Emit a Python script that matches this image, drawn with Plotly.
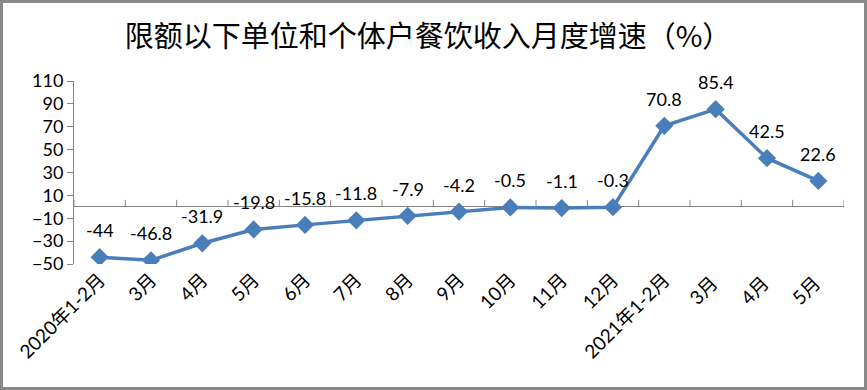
import plotly.graph_objects as go

categories = ["2020年1-2月", "3月", "4月", "5月", "6月", "7月", "8月", "9月", "10月", "11月",
              "12月", "2021年1-2月", "3月 ", "4月 ", "5月 "]
values = [-44, -46.8, -31.9, -19.8, -15.8, -11.8, -7.9, -4.2, -0.5, -1.1, -0.3, 70.8, 85.4, 42.5, 22.6]
labels = ["-44", "-46.8", "-31.9", "-19.8", "-15.8", "-11.8", "-7.9", "-4.2", "-0.5", "-1.1", "-0.3",
          "70.8", "85.4", "42.5", "22.6"]
title = "限额以下单位和个体户餐饮收入月度增速（%）"

W, H = 867, 390
ML, MR, MT, MB = 74, 23, 81, 126
PW, PH = W - ML - MR, H - MT - MB

line_color = "#4A7EBB"
axis_color = "#868686"
font_fam = "Lato, 'Noto Sans CJK SC', sans-serif"

fig = go.Figure()
fig.add_trace(go.Scatter(
    x=categories, y=values, mode="lines+markers",
    line=dict(color=line_color, width=3.5),
    marker=dict(symbol="diamond", size=14, color=line_color),
    hoverinfo="skip", showlegend=False,
))

annotations = []
for c, v, t in zip(categories, values, labels):
    annotations.append(dict(x=c, y=v, text=t, showarrow=False, yshift=27,
                            font=dict(size=18, color="black", family=font_fam)))

shapes = []
for i in range(len(categories) + 1):
    shapes.append(dict(type="line", xref="x", yref="y", x0=i - 0.5, x1=i - 0.5,
                       ysizemode="pixel", yanchor=0, y0=0, y1=7,
                       line=dict(color=axis_color, width=1)))
shapes.append(dict(type="rect", xref="paper", yref="paper",
                   x0=(1.5 - ML) / PW, x1=(W - 1.5 - ML) / PW,
                   y0=(1.5 - MB) / PH, y1=(H - 1.5 - MB) / PH,
                   line=dict(color="#898989", width=3), fillcolor="rgba(0,0,0,0)", layer="below"))

fig.update_layout(
    width=W, height=H,
    margin=dict(l=ML, r=MR, t=MT, b=MB, pad=0),
    paper_bgcolor="white", plot_bgcolor="white",
    title=dict(text=title, x=428 / W, xanchor="center", xref="container",
               y=1 - 37 / H, yanchor="middle", yref="container",
               font=dict(size=29, color="black", family="'Noto Sans CJK SC', sans-serif")),
    xaxis=dict(type="category", range=[-0.5, len(categories) - 0.5], showgrid=False,
               showline=False, ticks="", tickangle=-45,
               tickfont=dict(size=19, color="black", family=font_fam), fixedrange=True),
    yaxis=dict(range=[-50, 110], tick0=10, dtick=20, showgrid=False,
               showline=True, linecolor=axis_color, linewidth=1,
               ticks="outside", ticklen=6, tickcolor=axis_color,
               zeroline=True, zerolinecolor=axis_color, zerolinewidth=1,
               tickfont=dict(size=18, color="black", family=font_fam), fixedrange=True),
    annotations=annotations,
    shapes=shapes,
)

fig.write_html("out.html", config={"displayModeBar": False},
               post_script="document.body.style.margin='0px';document.body.style.overflow='hidden';")
